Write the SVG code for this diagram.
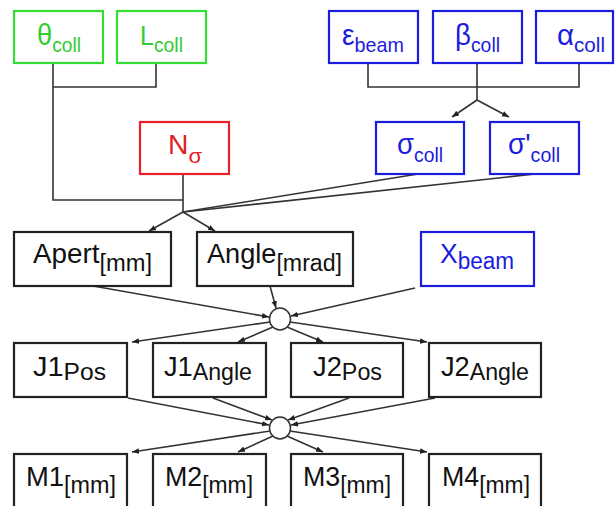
<svg xmlns="http://www.w3.org/2000/svg" width="615" height="506" viewBox="0 0 615 506">
<defs>
<style>
.box{fill:#fff;stroke-width:2.2}
.g{stroke:#33dd33}
.r{stroke:#e8202a}
.b{stroke:#1c1cdc}
.k{stroke:#222}
text{font-family:"Liberation Sans",Arial,sans-serif;font-size:27px}
.gr{font-size:30px}
.tg{fill:#33cc33}
.tr{fill:#e01f28}
.tb{fill:#1c1cdc}
.tk{fill:#111}
.s{font-size:21px}
.s2{font-size:23px}
.c{fill:none;stroke:#333;stroke-width:1.6}
.j{fill:#fff;stroke:#333;stroke-width:1.5}
</style>
<marker id="ah" viewBox="0 0 10 10" refX="10" refY="5" markerWidth="7" markerHeight="7" markerUnits="userSpaceOnUse" orient="auto">
<path d="M0,1 L10,5 L0,9 z" fill="#222"/>
</marker>
</defs>
<rect width="615" height="506" fill="#fff"/>

<g id="connectors">
<path class="c" d="M53,63 V200 H183 M156,63 V87 H53 M183,174 V212"/>
<path class="c" d="M368,63 V87 H579 V63 M477,63 V100"/>
<line class="c" x1="477" y1="100" x2="452" y2="117" marker-end="url(#ah)"/>
<line class="c" x1="477" y1="100" x2="509" y2="117" marker-end="url(#ah)"/>
<line class="c" x1="418" y1="174" x2="183" y2="212"/>
<line class="c" x1="535" y1="174" x2="183" y2="212"/>
<line class="c" x1="183" y1="212" x2="149" y2="231" marker-end="url(#ah)"/>
<line class="c" x1="183" y1="212" x2="215" y2="231" marker-end="url(#ah)"/>
<line class="c" x1="93" y1="286" x2="269" y2="317" marker-end="url(#ah)"/>
<line class="c" x1="270" y1="286" x2="276" y2="308" marker-end="url(#ah)"/>
<line class="c" x1="415" y1="288" x2="291" y2="316" marker-end="url(#ah)"/>
<line class="c" x1="270" y1="322" x2="132" y2="342" marker-end="url(#ah)"/>
<line class="c" x1="273" y1="327" x2="238" y2="342" marker-end="url(#ah)"/>
<line class="c" x1="287" y1="327" x2="323" y2="342" marker-end="url(#ah)"/>
<line class="c" x1="290" y1="322" x2="427" y2="342" marker-end="url(#ah)"/>
<line class="c" x1="128" y1="398" x2="269" y2="425" marker-end="url(#ah)"/>
<line class="c" x1="213" y1="398" x2="272" y2="420" marker-end="url(#ah)"/>
<line class="c" x1="349" y1="398" x2="288" y2="420" marker-end="url(#ah)"/>
<line class="c" x1="435" y1="398" x2="291" y2="425" marker-end="url(#ah)"/>
<line class="c" x1="270" y1="431" x2="132" y2="452" marker-end="url(#ah)"/>
<line class="c" x1="273" y1="436" x2="238" y2="452" marker-end="url(#ah)"/>
<line class="c" x1="287" y1="436" x2="323" y2="452" marker-end="url(#ah)"/>
<line class="c" x1="290" y1="431" x2="427" y2="452" marker-end="url(#ah)"/>
<ellipse class="j" cx="280" cy="319" rx="10.5" ry="11"/>
<ellipse class="j" cx="280" cy="428" rx="10.5" ry="11"/>
</g>

<g id="theta_coll"><rect class="box g" x="14" y="11" width="89" height="52"/>
<text class="tg gr" textLength="44" lengthAdjust="spacingAndGlyphs" x="37" y="45">θ<tspan class="s" y="52">coll</tspan></text></g>
<g id="L_coll"><rect class="box g" x="117" y="11" width="89" height="52"/>
<text class="tg" textLength="43" lengthAdjust="spacingAndGlyphs" x="140" y="45">L<tspan class="s" y="52">coll</tspan></text></g>
<g id="N_sigma"><rect class="box r" x="140" y="122" width="89" height="52"/>
<text class="tr" textLength="34" lengthAdjust="spacingAndGlyphs" x="168" y="154">N<tspan class="s" y="163">σ</tspan></text></g>

<g id="eps_beam"><rect class="box b" x="329" y="11" width="89" height="52"/>
<text class="tb gr" textLength="62" lengthAdjust="spacingAndGlyphs" x="342" y="45">ε<tspan class="s" y="52">beam</tspan></text></g>
<g id="beta_coll"><rect class="box b" x="433" y="11" width="89" height="52"/>
<text class="tb gr" textLength="45" lengthAdjust="spacingAndGlyphs" x="455" y="45">β<tspan class="s" y="52">coll</tspan></text></g>
<g id="alpha_coll"><rect class="box b" x="536" y="11" width="77" height="52"/>
<text class="tb gr" textLength="48" lengthAdjust="spacingAndGlyphs" x="557" y="45">α<tspan class="s" y="52">coll</tspan></text></g>
<g id="sigma_coll"><rect class="box b" x="376" y="122" width="88" height="52"/>
<text class="tb gr" textLength="46" lengthAdjust="spacingAndGlyphs" x="397" y="154">σ<tspan class="s" y="162">coll</tspan></text></g>
<g id="sigmap_coll"><rect class="box b" x="490" y="122" width="89" height="52"/>
<text class="tb gr" textLength="52" lengthAdjust="spacingAndGlyphs" x="508" y="154">σ'<tspan class="s" y="162">coll</tspan></text></g>

<g id="apert"><rect class="box k" x="14" y="232" width="157" height="54"/>
<text class="tk" textLength="119" lengthAdjust="spacingAndGlyphs" x="33" y="263">Apert<tspan class="s2" y="271">[mm]</tspan></text></g>
<g id="angle"><rect class="box k" x="197" y="232" width="156" height="54"/>
<text class="tk" textLength="135" lengthAdjust="spacingAndGlyphs" x="207" y="263">Angle<tspan class="s2" y="271">[mrad]</tspan></text></g>
<g id="x_beam"><rect class="box b" x="421" y="232" width="113" height="54"/>
<text class="tb" textLength="74" lengthAdjust="spacingAndGlyphs" x="440" y="263">X<tspan class="s2" y="269">beam</tspan></text></g>

<g id="j1pos"><rect class="box k" x="14" y="343" width="113" height="54"/>
<text class="tk" textLength="73" lengthAdjust="spacingAndGlyphs" x="33" y="376">J1<tspan class="s2" y="380">Pos</tspan></text></g>
<g id="j1angle"><rect class="box k" x="153" y="343" width="113" height="54"/>
<text class="tk" textLength="88" lengthAdjust="spacingAndGlyphs" x="164" y="376">J1<tspan class="s2" y="380">Angle</tspan></text></g>
<g id="j2pos"><rect class="box k" x="291" y="343" width="112" height="54"/>
<text class="tk" textLength="69" lengthAdjust="spacingAndGlyphs" x="313" y="376">J2<tspan class="s2" y="380">Pos</tspan></text></g>
<g id="j2angle"><rect class="box k" x="429" y="343" width="112" height="54"/>
<text class="tk" textLength="88" lengthAdjust="spacingAndGlyphs" x="441" y="376">J2<tspan class="s2" y="380">Angle</tspan></text></g>

<g id="m1"><rect class="box k" x="14" y="454" width="113" height="54"/>
<text class="tk" textLength="90" lengthAdjust="spacingAndGlyphs" x="26" y="486">M1<tspan class="s2" y="493">[mm]</tspan></text></g>
<g id="m2"><rect class="box k" x="153" y="454" width="113" height="54"/>
<text class="tk" textLength="88" lengthAdjust="spacingAndGlyphs" x="165" y="486">M2<tspan class="s2" y="493">[mm]</tspan></text></g>
<g id="m3"><rect class="box k" x="291" y="454" width="112" height="54"/>
<text class="tk" textLength="88" lengthAdjust="spacingAndGlyphs" x="303" y="486">M3<tspan class="s2" y="493">[mm]</tspan></text></g>
<g id="m4"><rect class="box k" x="429" y="454" width="112" height="54"/>
<text class="tk" textLength="88" lengthAdjust="spacingAndGlyphs" x="442" y="486">M4<tspan class="s2" y="493">[mm]</tspan></text></g>
</svg>
